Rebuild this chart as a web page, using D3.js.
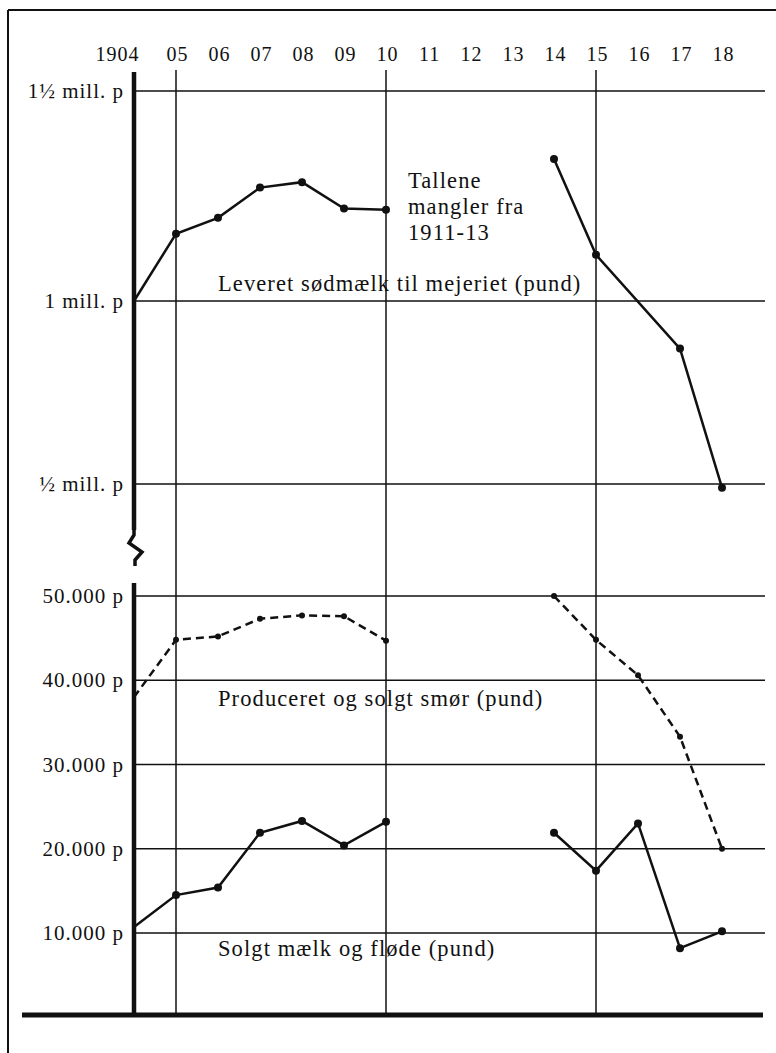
<!DOCTYPE html>
<html>
<head>
<meta charset="utf-8">
<script src="https://cdn.jsdelivr.net/npm/d3@7"></script>
<style>
  body { margin: 0; background: #fff; }
  svg text { font-family: "Liberation Serif", "DejaVu Serif", serif !important; fill: #111; }
</style>
</head>
<body>
<div id="chart"></div>
<script>
// years shown on the top axis
var years = [1904, 1905, 1906, 1907, 1908, 1909, 1910, 1911, 1912, 1913, 1914, 1915, 1916, 1917, 1918];
var yearLabels = ["1904", "05", "06", "07", "08", "09", "10", "11", "12", "13", "14", "15", "16", "17", "18"];

// sweet milk delivered to the dairy (million pounds), no data 1911-13 and 1916
var milkYears = [1904, 1905, 1906, 1907, 1908, 1909, 1910, 1914, 1915, 1917, 1918];
var milkDelivered = [1.0, 1.16, 1.198, 1.27, 1.283, 1.22, 1.217, 1.338, 1.11, 0.87, 0.49];

// butter produced and sold (pounds)
var butterYears = [1904, 1905, 1906, 1907, 1908, 1909, 1910, 1914, 1915, 1916, 1917, 1918];
var butterSold = [38000, 44800, 45200, 47300, 47700, 47600, 44700, 50000, 44800, 40600, 33300, 20000];

// milk and cream sold (pounds)
var creamYears = [1904, 1905, 1906, 1907, 1908, 1909, 1910, 1914, 1915, 1916, 1917, 1918];
var creamSold = [10700, 14500, 15400, 21900, 23300, 20400, 23200, 21900, 17400, 23000, 8200, 10200];

var topTicks = [0.5, 1, 1.5];
var topTickLabels = ["½ mill. p", "1 mill. p", "1½ mill. p"];
var lowTicks = [10000, 20000, 30000, 40000, 50000];
var lowTickLabels = ["10.000 p", "20.000 p", "30.000 p", "40.000 p", "50.000 p"];

var svgWidth = 776;
var svgHeight = 1053;

var svg = d3.select("#chart")
  .append("svg")
  .attr("width", svgWidth)
  .attr("height", svgHeight);

var axisX = 134;
var gridRight = 765;
var baseY = 1015;

// scales
var x = d3.scaleLinear().domain([1904, 1918]).range([axisX, 722]);
// the printed top panel is not evenly spaced, so piecewise
var yTop = d3.scaleLinear().domain([0.5, 1, 1.5]).range([484, 301, 91]);
var yLow = d3.scaleLinear().domain([10000, 50000]).range([933, 596]);

// outer frame
svg.append("line").attr("x1", 8).attr("x2", 8).attr("y1", 10).attr("y2", svgHeight)
  .attr("stroke", "#111").attr("stroke-width", 2);
svg.append("line").attr("x1", 8).attr("x2", svgWidth).attr("y1", 10).attr("y2", 10)
  .attr("stroke", "#111").attr("stroke-width", 2);

// horizontal grid lines
var grid = svg.append("g").attr("stroke", "#111").attr("stroke-width", 1.5);
grid.selectAll("line.top").data(topTicks).enter().append("line")
  .attr("x1", axisX).attr("x2", gridRight)
  .attr("y1", d => yTop(d)).attr("y2", d => yTop(d));
grid.selectAll("line.low").data(lowTicks).enter().append("line")
  .attr("x1", axisX).attr("x2", gridRight)
  .attr("y1", d => yLow(d)).attr("y2", d => yLow(d));

// vertical grid lines at 05, 10, 15
grid.selectAll("line.v").data([1905, 1910, 1915]).enter().append("line")
  .attr("x1", d => x(d)).attr("x2", d => x(d))
  .attr("y1", 70).attr("y2", baseY);

// year labels
var xAxis = d3.axisTop(x)
  .tickValues(years)
  .tickSize(0)
  .tickFormat((d, i) => yearLabels[i]);
var xg = svg.append("g").attr("transform", "translate(0,61)").call(xAxis);
xg.select(".domain").remove();
xg.attr("font-size", 20);
xg.selectAll("text").attr("dy", 0).attr("y", 0).attr("fill", "#111")
  .attr("letter-spacing", 1).attr("dx", 1);
xg.selectAll("text").filter(d => d === 1904).attr("text-anchor", "end").attr("x", 4);

// left labels
var lt = svg.append("g").attr("font-size", 21).attr("text-anchor", "end")
  .attr("letter-spacing", 1);
lt.selectAll("text.t").data(topTicks).enter().append("text")
  .attr("x", 124).attr("y", d => yTop(d) + 7)
  .text((d, i) => topTickLabels[i]);
lt.selectAll("text.l").data(lowTicks).enter().append("text")
  .attr("x", 124).attr("y", d => yLow(d) + 7)
  .text((d, i) => lowTickLabels[i]);

// thick axis with break
svg.append("line").attr("x1", axisX).attr("x2", axisX).attr("y1", 72).attr("y2", 530)
  .attr("stroke", "#111").attr("stroke-width", 4.5);
svg.append("path")
  .attr("d", "M134,528 L134,535 L129,543 L142,552 L135,560 L135,566")
  .attr("fill", "none").attr("stroke", "#111").attr("stroke-width", 3.5);
svg.append("line").attr("x1", axisX).attr("x2", axisX).attr("y1", 583).attr("y2", baseY)
  .attr("stroke", "#111").attr("stroke-width", 4.5);

// base line
svg.append("line").attr("x1", 22).attr("x2", 763).attr("y1", baseY).attr("y2", baseY)
  .attr("stroke", "#111").attr("stroke-width", 5);

// draws a series, broken where the data are missing
function drawSeries(yrs, vals, yScale, dashed, r) {
  var pts = yrs.map((d, i) => ({ year: d, value: vals[i] }));
  var line = d3.line()
    .x(d => x(d.year))
    .y(d => yScale(d.value));
  var parts = [pts.filter(d => d.year <= 1910), pts.filter(d => d.year >= 1914)];
  var g = svg.append("g");
  g.selectAll("path").data(parts).enter().append("path")
    .attr("d", line)
    .attr("fill", "none")
    .attr("stroke", "#111")
    .attr("stroke-width", dashed ? 2.5 : 2.5)
    .attr("stroke-dasharray", dashed ? "8,5" : null);
  g.selectAll("circle").data(pts.filter(d => d.year > 1904)).enter().append("circle")
    .attr("cx", d => x(d.year))
    .attr("cy", d => yScale(d.value))
    .attr("r", r)
    .attr("fill", "#111");
}

drawSeries(milkYears, milkDelivered, yTop, false, 4);
drawSeries(butterYears, butterSold, yLow, true, 3);
drawSeries(creamYears, creamSold, yLow, false, 4);

// annotations
var notes = svg.append("g").attr("font-size", 22.5).attr("letter-spacing", 1.1);
notes.append("text").attr("x", 408).attr("y", 188).text("Tallene");
notes.append("text").attr("x", 408).attr("y", 214).text("mangler fra");
notes.append("text").attr("x", 408).attr("y", 240).text("1911-13");
notes.append("text").attr("x", 218).attr("y", 291).text("Leveret sødmælk til mejeriet (pund)");
notes.append("text").attr("x", 218).attr("y", 706).text("Produceret og solgt smør (pund)");
notes.append("text").attr("x", 218).attr("y", 956).text("Solgt mælk og fløde (pund)");
</script>
</body>
</html>
